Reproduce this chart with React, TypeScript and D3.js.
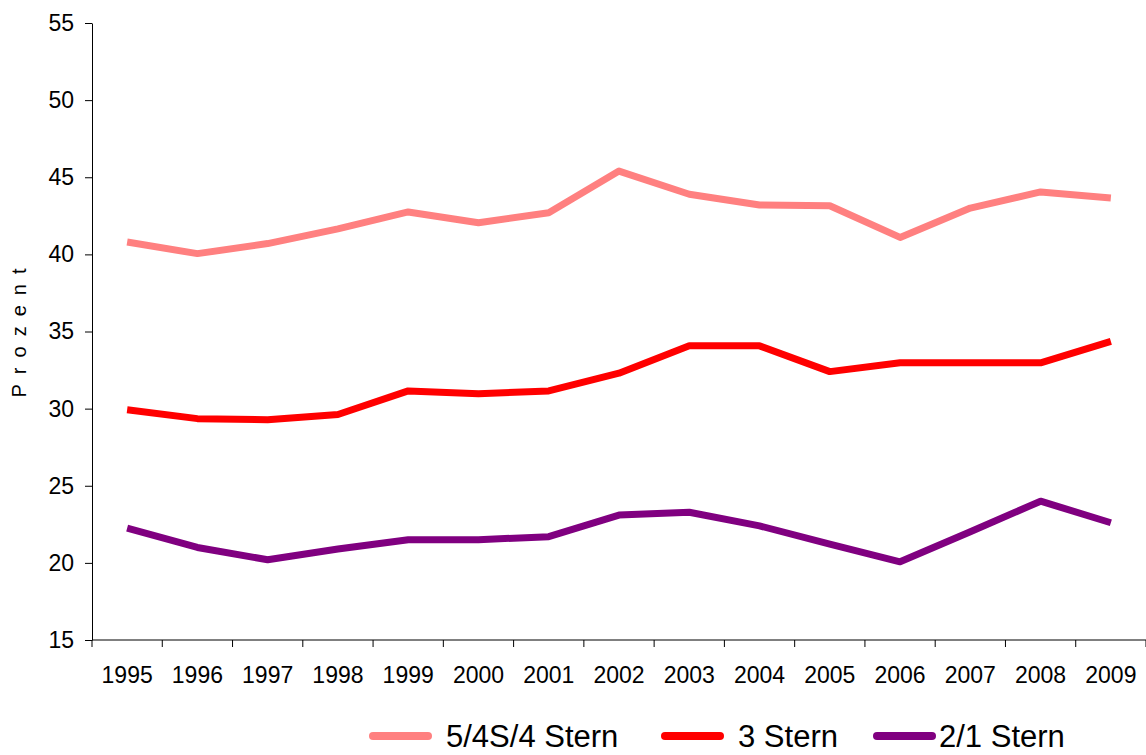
import React, { useEffect, useRef } from 'react';
import * as d3 from 'd3';

const years = ['1995', '1996', '1997', '1998', '1999', '2000', '2001', '2002', '2003', '2004', '2005', '2006', '2007', '2008', '2009'];
const stern54 = [40.8, 40.05, 40.7, 41.65, 42.75, 42.05, 42.7, 45.4, 43.9, 43.2, 43.15, 41.1, 43.0, 44.05, 43.65];
const stern3 = [29.93, 29.35, 29.28, 29.62, 31.15, 30.97, 31.15, 32.3, 34.07, 34.07, 32.4, 32.97, 32.97, 32.97, 34.36];
const stern21 = [22.25, 21.0, 20.2, 20.9, 21.5, 21.5, 21.7, 23.1, 23.28, 22.4, 21.22, 20.07, 22.02, 24.0, 22.6];
const yTicks = [15, 20, 25, 30, 35, 40, 45, 50, 55];

const seriesNames = ['5/4S/4 Stern', '3 Stern', '2/1 Stern'];
const seriesColors = ['#FF8080', '#FF0000', '#800080'];
const seriesValues = [stern54, stern3, stern21];

const App = () => {
    const svgRef = useRef(null);

    useEffect(() => {
        const svg = d3.select(svgRef.current);
        svg.selectAll('*').remove();

        const left = 92;
        const right = 1146;
        const top = 23;
        const bottom = 640;
        const font = 'Arial, "Liberation Sans", sans-serif';

        const x = d3.scaleBand().domain(years).range([left, right]);
        const y = d3.scaleLinear().domain([15, 55]).range([bottom, top]);

        // y achse
        const yAxis = svg.append('g')
            .attr('transform', `translate(${left},0)`)
            .call(d3.axisLeft(y).tickValues(yTicks).tickSize(7).tickPadding(11).tickSizeOuter(0));
        yAxis.select('.domain').attr('stroke', '#000').attr('stroke-width', 1);
        yAxis.selectAll('.tick line').attr('stroke', '#000');
        yAxis.selectAll('text')
            .attr('font-family', font)
            .attr('font-size', 23)
            .attr('fill', '#000');

        // x achse, striche zwischen den jahren
        const xAxis = svg.append('g').attr('transform', `translate(0,${bottom})`);
        xAxis.append('line')
            .attr('x1', left).attr('x2', right)
            .attr('stroke', '#000');
        const bounds = years.map(d => x(d) as number).concat([right]);
        xAxis.selectAll('line.tk')
            .data(bounds)
            .join('line')
            .attr('class', 'tk')
            .attr('x1', d => d).attr('x2', d => d)
            .attr('y1', 0).attr('y2', 7)
            .attr('stroke', '#000');
        xAxis.selectAll('text')
            .data(years)
            .join('text')
            .attr('x', d => (x(d) as number) + x.bandwidth() / 2)
            .attr('y', 43)
            .attr('text-anchor', 'middle')
            .attr('font-family', font)
            .attr('font-size', 23)
            .text(d => d);

        // y titel
        svg.append('text')
            .attr('transform', 'translate(26,328) rotate(-90)')
            .attr('text-anchor', 'middle')
            .attr('font-family', font)
            .attr('font-size', 20)
            .style('letter-spacing', '10px')
            .text('Prozent');

        const line = d3.line<number>()
            .x((_, i) => (x(years[i]) as number) + x.bandwidth() / 2)
            .y(d => y(d));

        seriesValues.forEach((vals, i) => {
            svg.append('path')
                .datum(vals)
                .attr('fill', 'none')
                .attr('stroke', seriesColors[i])
                .attr('stroke-width', 7)
                .attr('stroke-linejoin', 'round')
                .attr('d', line);
        });

        // legende
        const legendX = [369, 661, 873];
        const leg = svg.append('g');
        seriesNames.forEach((name, i) => {
            leg.append('line')
                .attr('x1', legendX[i] + 4).attr('x2', legendX[i] + 59)
                .attr('y1', 736).attr('y2', 736)
                .attr('stroke', seriesColors[i])
                .attr('stroke-width', 8)
                .attr('stroke-linecap', 'round');
            leg.append('text')
                .attr('x', legendX[i] + (i === 2 ? 66 : 77))
                .attr('y', 747)
                .attr('font-family', font)
                .attr('font-size', 31)
                .text(name);
        });
    }, []);

    return (
        <svg ref={svgRef} width={1146} height={755}
             style={{ position: 'absolute', left: 0, top: 0, background: '#fff' }} />
    );
};

export default App;
